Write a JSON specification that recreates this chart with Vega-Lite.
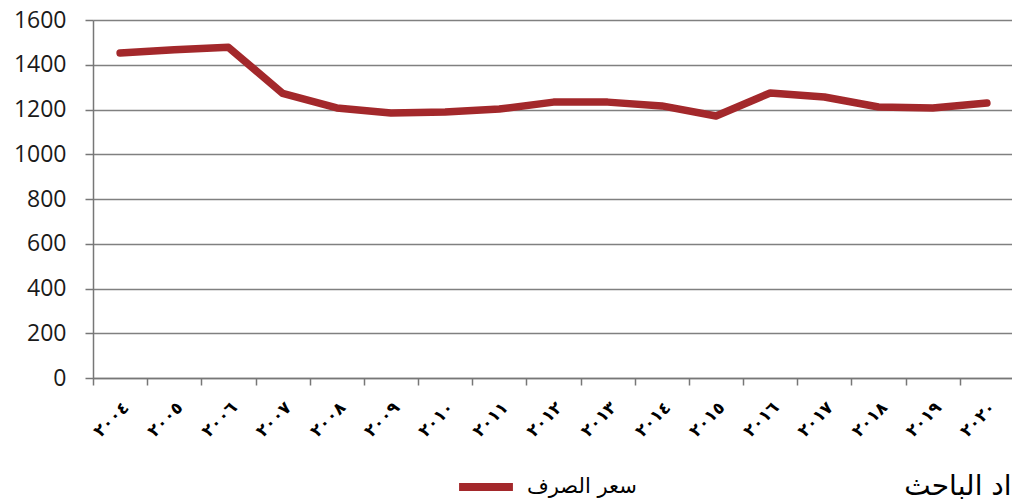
{
  "$schema": "https://vega.github.io/schema/vega-lite/v6.json",
  "autosize": "none",
  "width": 921,
  "height": 358,
  "padding": {"left": 93, "top": 20, "right": 0, "bottom": 121},
  "background": "white",
  "data": {"values": [
    {"year": "٢٠٠٤", "rate": 1452, "series": "سعر الصرف"},
    {"year": "٢٠٠٥", "rate": 1467, "series": "سعر الصرف"},
    {"year": "٢٠٠٦", "rate": 1478, "series": "سعر الصرف"},
    {"year": "٢٠٠٧", "rate": 1272, "series": "سعر الصرف"},
    {"year": "٢٠٠٨", "rate": 1207, "series": "سعر الصرف"},
    {"year": "٢٠٠٩", "rate": 1184, "series": "سعر الصرف"},
    {"year": "٢٠١٠", "rate": 1189, "series": "سعر الصرف"},
    {"year": "٢٠١١", "rate": 1202, "series": "سعر الصرف"},
    {"year": "٢٠١٢", "rate": 1233, "series": "سعر الصرف"},
    {"year": "٢٠١٣", "rate": 1233, "series": "سعر الصرف"},
    {"year": "٢٠١٤", "rate": 1216, "series": "سعر الصرف"},
    {"year": "٢٠١٥", "rate": 1171, "series": "سعر الصرف"},
    {"year": "٢٠١٦", "rate": 1274, "series": "سعر الصرف"},
    {"year": "٢٠١٧", "rate": 1256, "series": "سعر الصرف"},
    {"year": "٢٠١٨", "rate": 1211, "series": "سعر الصرف"},
    {"year": "٢٠١٩", "rate": 1207, "series": "سعر الصرف"},
    {"year": "٢٠٢٠", "rate": 1229, "series": "سعر الصرف"}
  ]},
  "title": {
    "text": "إعداد الباحث",
    "orient": "bottom",
    "anchor": "end",
    "font": "DejaVu Sans",
    "fontSize": 28,
    "fontWeight": "normal",
    "color": "black",
    "dx": 36,
    "offset": -30
  },
  "mark": {"type": "line", "strokeWidth": 7.5, "strokeCap": "round", "strokeJoin": "round"},
  "encoding": {
    "x": {
      "field": "year", "type": "ordinal", "sort": null, "bandPosition": 0.5,
      "scale": {"type": "band", "paddingInner": 0, "paddingOuter": 0},
      "axis": {
        "title": null, "tickBand": "extent", "labelAngle": -45, "labelPadding": 14,
        "labelFont": "DejaVu Sans", "labelFontSize": 17, "labelFontWeight": "bold", "labelColor": "black",
        "domainColor": "#777", "domainWidth": 1.5, "tickColor": "#777", "tickWidth": 1.5, "tickSize": 7,
        "grid": false
      }
    },
    "y": {
      "field": "rate", "type": "quantitative",
      "scale": {"domain": [0, 1600], "nice": false},
      "axis": {
        "title": null, "format": "d", "values": [0, 200, 400, 600, 800, 1000, 1200, 1400, 1600],
        "labelFont": "Open Sans", "labelFontSize": 23, "labelColor": "#1a1a1a", "labelPadding": 19,
        "domainColor": "#777", "domainWidth": 1.5, "tickColor": "#777", "tickWidth": 1.5, "tickSize": 8,
        "gridColor": "#808080", "gridWidth": 1.5, "gridOpacity": 1
      }
    },
    "color": {
      "field": "series", "type": "nominal",
      "scale": {"range": ["#a3282b"]},
      "legend": {
        "title": null, "orient": "none", "legendX": 362, "legendY": 436,
        "symbolType": "stroke", "symbolSize": 2900, "symbolStrokeWidth": 8,
        "labelFont": "DejaVu Sans", "labelFontSize": 21, "labelColor": "black", "labelOffset": 10
      }
    }
  },
  "config": {"view": {"stroke": null}}
}
